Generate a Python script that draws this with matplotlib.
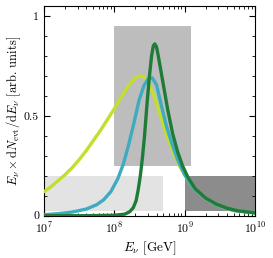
import matplotlib
matplotlib.use("Agg")
import matplotlib.pyplot as plt
import numpy as np
from matplotlib.patches import Rectangle
from matplotlib.ticker import MultipleLocator, FixedLocator, FixedFormatter

plt.rcParams['font.family'] = 'serif'
plt.rcParams['font.serif'] = ['cmr10', 'DejaVu Serif']
plt.rcParams['mathtext.fontset'] = 'cm'
plt.rcParams['axes.formatter.use_mathtext'] = True

# curves: log10(E/GeV), normalised rate
logE_yel = [7.0, 7.1, 7.2, 7.3, 7.4, 7.5, 7.6, 7.7, 7.8, 7.9, 8.0, 8.1, 8.2, 8.26, 8.32,
            8.37, 8.42, 8.47, 8.52, 8.57, 8.62, 8.67, 8.72, 8.78, 8.85, 8.92, 9.0,
            9.1, 9.2, 9.35, 9.5, 9.7, 9.85, 10.0]
y_yel = [0.12, 0.145, 0.175, 0.205, 0.24, 0.28, 0.325, 0.375, 0.425, 0.48, 0.535, 0.595,
         0.65, 0.675, 0.695, 0.70, 0.695, 0.675, 0.64, 0.595, 0.54, 0.485, 0.43, 0.37,
         0.31, 0.255, 0.205, 0.15, 0.115, 0.075, 0.047, 0.026, 0.019, 0.014]

logE_teal = [7.0, 7.2, 7.4, 7.6, 7.75, 7.85, 7.95, 8.05, 8.13, 8.2, 8.27, 8.35, 8.42,
             8.48, 8.54, 8.6, 8.67, 8.74, 8.82, 8.9, 9.0, 9.1, 9.2, 9.35, 9.5, 9.7, 10.0]
y_teal = [0.005, 0.01, 0.018, 0.033, 0.055, 0.08, 0.12, 0.185, 0.26, 0.35, 0.45, 0.575, 0.65,
          0.685, 0.69, 0.655, 0.55, 0.45, 0.36, 0.28, 0.205, 0.15, 0.115, 0.075, 0.047, 0.026, 0.014]

logE_grn = [7.0, 7.6, 8.0, 8.15, 8.22, 8.27, 8.31, 8.34, 8.37, 8.4, 8.43, 8.465, 8.5,
            8.53, 8.555, 8.575, 8.6, 8.625, 8.65, 8.7, 8.76, 8.83, 8.9, 8.97, 9.05, 9.15,
            9.3, 9.45, 9.6, 9.75, 10.0]
y_grn = [0.0, 0.0, 0.002, 0.008, 0.02, 0.04, 0.075, 0.13, 0.2, 0.29, 0.4, 0.56, 0.7,
         0.8, 0.85, 0.86, 0.845, 0.8, 0.75, 0.65, 0.53, 0.41, 0.32, 0.25, 0.19, 0.135,
         0.088, 0.058, 0.038, 0.025, 0.014]

# shaded boxes: (E_min, E_max, y_min, y_max, colour)
boxes = [
    (1e8, 1.25e9, 0.25, 0.95, '#bdbdbd'),
    (1e7, 5e8, 0.025, 0.20, '#e3e3e3'),
    (1e9, 1e10, 0.025, 0.20, '#8c8c8c'),
]

fig = plt.figure(figsize=(2.73, 2.58), dpi=100)
ax = fig.add_axes([0.161, 0.164, 0.773, 0.813])

for e0, e1, y0, y1, c in boxes:
    ax.add_patch(Rectangle((e0, y0), e1 - e0, y1 - y0, color=c, lw=0, zorder=1))

kw = dict(lw=2.4, solid_joinstyle='round', solid_capstyle='round')
ax.plot(10**np.array(logE_yel), y_yel, color='#c3df2c', zorder=3, **kw)
ax.plot(10**np.array(logE_teal), y_teal, color='#3eabbe', zorder=4, **kw)
ax.plot(10**np.array(logE_grn), y_grn, color='#1f7c38', zorder=5, **kw)

ax.set_xscale('log')
ax.set_xlim(1e7, 1e10)
ax.set_ylim(0, 1.05)
ax.yaxis.set_major_locator(FixedLocator([0, 0.5, 1]))
ax.yaxis.set_major_formatter(FixedFormatter(['0', '0.5', '1']))
ax.yaxis.set_minor_locator(MultipleLocator(0.1))
ax.tick_params(which='both', direction='in', top=True, right=True, labelsize=8.5)
ax.tick_params(which='major', length=4)
ax.tick_params(which='minor', length=2)

ax.set_xlabel(r'$E_\nu$ [GeV]', fontsize=9.5, labelpad=3)
ax.set_ylabel(r'$E_\nu \times \mathrm{d}N_\mathrm{evt}/\mathrm{d}E_\nu$ [arb. units]',
              fontsize=9, labelpad=1)

fig.savefig('out.png', dpi=100)
